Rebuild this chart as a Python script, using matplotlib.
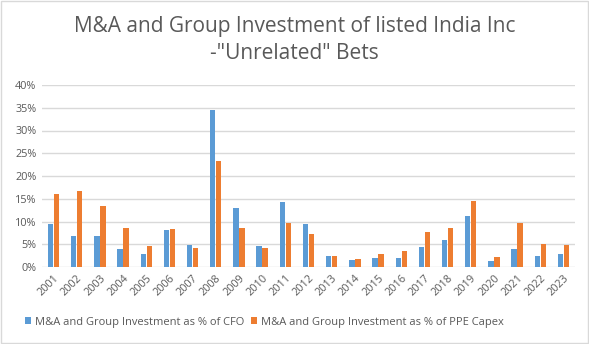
import numpy as np
import matplotlib.pyplot as plt
from matplotlib.patches import Rectangle

# data
years = [str(y) for y in range(2001, 2024)]
pct_cfo = [9.4, 6.8, 6.8, 4.0, 2.9, 8.1, 4.9, 34.5, 13.0, 4.6, 14.3, 9.4,
           2.4, 1.5, 2.0, 2.0, 4.4, 5.9, 11.2, 1.3, 4.0, 2.4, 2.9]
pct_ppe = [16.0, 16.6, 13.4, 8.6, 4.6, 8.4, 4.2, 23.3, 8.6, 4.2, 9.7, 7.3,
           2.4, 1.7, 2.9, 3.5, 7.7, 8.6, 14.5, 2.2, 9.7, 5.1, 4.9]
series_names = ['M&A and Group Investment as % of CFO',
                'M&A and Group Investment as % of PPE Capex']

grey = '#595959'
plt.rcParams['font.family'] = ['Open Sans', 'DejaVu Sans']

fig = plt.figure(figsize=(5.89, 3.44), dpi=100)
ax = fig.add_axes([42 / 589, 1 - 267 / 344, (575 - 42) / 589, (267 - 85) / 344])

x = np.arange(len(years))
w = 0.23
ax.bar(x - 0.13, pct_cfo, w, color='#5B9BD5', label=series_names[0], zorder=3)
ax.bar(x + 0.13, pct_ppe, w, color='#ED7D31', label=series_names[1], zorder=3)

ax.set_xlim(-0.5, len(years) - 0.5)
ax.set_ylim(0, 40)
ax.set_yticks(range(0, 41, 5))
ax.set_yticklabels([f'{v}%' for v in range(0, 41, 5)], fontsize=7.8, color=grey)
ax.set_xticks(x)
ax.set_xticklabels(years, rotation=45, ha='right', rotation_mode='anchor',
                   fontsize=7.8, color=grey)
ax.tick_params(length=0, pad=4)
ax.grid(axis='y', color='#D9D9D9', linewidth=1, zorder=0)
for s in ax.spines.values():
    s.set_visible(False)

fig.text(0.5, 1 - 40 / 344, 'M&A and Group Investment of listed India Inc\n-"Unrelated" Bets',
         ha='center', va='center', fontsize=15, color=grey, linespacing=1.4)

fig.legend(loc='center', bbox_to_anchor=(264 / 589, 1 - 322 / 344), ncol=2, frameon=False,
           fontsize=8, labelcolor=grey, handlelength=0.6, handleheight=0.6,
           handletextpad=0.3, columnspacing=0.6)

# thin outer border like the chart area
fig.patches.append(Rectangle((0.002, 0.003), 0.996, 0.994, transform=fig.transFigure,
                             fill=False, edgecolor='#D9D9D9', linewidth=1))

plt.savefig('out.png', dpi=100)
